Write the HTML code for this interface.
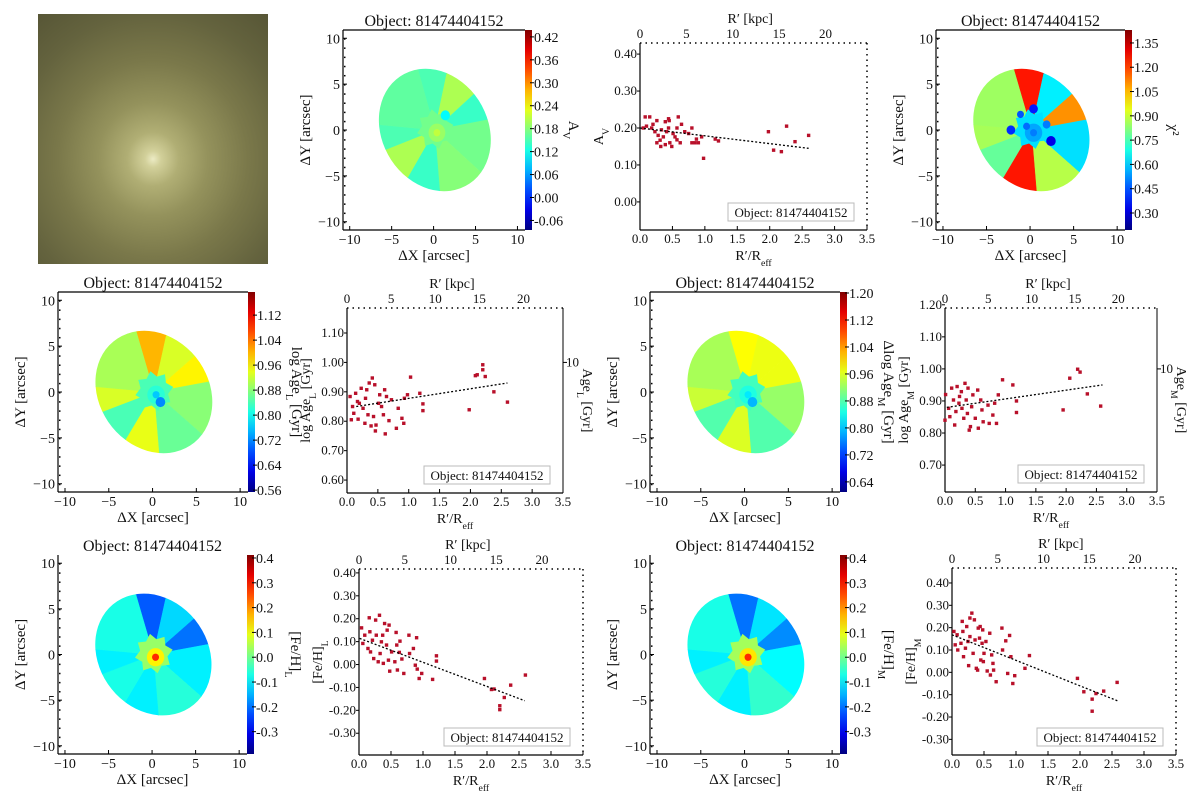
<!DOCTYPE html>
<html><head><meta charset="utf-8"><title>Object 81474404152 maps</title>
<style>
html,body{margin:0;padding:0;background:#fff;}
#wrap{position:relative;width:1200px;height:802px;overflow:hidden;font-family:"Liberation Serif",serif;}
#photo{position:absolute;left:38px;top:14px;width:230px;height:250px;
background:radial-gradient(ellipse 130px 135px at 50% 58%,#ecebc4 0,#d2d09a 8px,#b0ae74 26px,#94925c 55px,#7a784a 95px,#64633e 140px,#575636 180px);}
svg{position:absolute;left:0;top:0;}
text{font-family:"Liberation Serif",serif;fill:#111;}
</style></head>
<body>
<div id="wrap">
<div id="photo"></div>
<svg id="fig" width="1200" height="802" viewBox="0 0 1200 802"></svg>
</div>
<script>
// ---------- data ----------
const xTickVals=[0,0.5,1.0,1.5,2.0,2.5,3.0,3.5];
const kpcTicks=[0,5,10,15,20];
// A_V
const avR=[0.05,0.08,0.15,0.18,0.23,0.26,0.28,0.31,0.32,0.36,0.39,0.41,0.44,0.45,0.46,0.49,0.44,0.54,0.57,0.59,0.62,0.64,0.69,0.80,0.80,0.87,0.90,0.95,0.98,1.16,1.21,1.98,2.06,2.18,2.26,2.39,2.6,0.1,0.2,0.33,0.51,0.57,0.75,0.85,0.26,0.39];
const avV=[0.20,0.23,0.23,0.20,0.19,0.22,0.18,0.167,0.15,0.176,0.217,0.19,0.20,0.22,0.16,0.15,0.225,0.176,0.20,0.23,0.16,0.21,0.19,0.20,0.16,0.17,0.16,0.176,0.118,0.17,0.165,0.19,0.14,0.136,0.205,0.163,0.18,0.205,0.21,0.195,0.185,0.168,0.185,0.16,0.16,0.155];
const avFitX=[0,2.6], avFitY=[0.20,0.145];
const avTicks=[0.00,0.10,0.20,0.30,0.40];
// log Age L
const agLR=[0.05,0.09,0.07,0.11,0.14,0.17,0.18,0.2,0.23,0.26,0.29,0.3,0.32,0.34,0.36,0.39,0.41,0.43,0.45,0.46,0.47,0.51,0.53,0.56,0.59,0.61,0.62,0.64,0.68,0.72,0.8,0.83,0.89,0.92,0.93,0.98,1.03,1.18,1.23,1.23,1.98,2.08,2.11,2.2,2.2,2.24,2.38,2.6];
const agLV=[0.884,0.85,0.805,0.827,0.895,0.867,0.807,0.861,0.912,0.844,0.793,0.878,0.907,0.822,0.93,0.784,0.947,0.816,0.924,0.767,0.787,0.861,0.89,0.85,0.822,0.907,0.757,0.884,0.802,0.873,0.776,0.844,0.81,0.793,0.878,0.89,0.95,0.895,0.859,0.836,0.839,0.955,0.958,0.975,0.992,0.952,0.9,0.865];
const agLFitX=[0.15,2.6], agLFitY=[0.85,0.93];
const agLTicks=[0.60,0.70,0.80,0.90,1.00,1.10];
// log Age M
const agMR=[0,0.01,0.06,0.08,0.11,0.14,0.16,0.18,0.2,0.23,0.24,0.27,0.28,0.31,0.33,0.35,0.37,0.38,0.4,0.42,0.44,0.46,0.5,0.54,0.55,0.59,0.61,0.63,0.71,0.73,0.79,0.82,0.85,0.88,0.95,1.12,1.18,1.18,1.95,2.06,2.19,2.23,2.35,2.57];
const agMV=[0.84,0.92,0.877,0.851,0.94,0.903,0.825,0.867,0.945,0.893,0.914,0.929,0.877,0.846,0.955,0.903,0.861,0.94,0.809,0.82,0.882,0.919,0.846,0.934,0.815,0.903,0.872,0.835,0.887,0.83,0.856,0.893,0.83,0.919,0.966,0.95,0.9,0.864,0.872,0.971,0.999,0.99,0.922,0.884];
const agMFitX=[0.03,2.6], agMFitY=[0.88,0.95];
const agMTicks=[0.70,0.80,0.90,1.00,1.10,1.20];
// [Fe/H] L
const feLR=[0.04,0.06,0.09,0.14,0.16,0.17,0.18,0.21,0.23,0.26,0.27,0.3,0.32,0.33,0.35,0.37,0.38,0.4,0.43,0.44,0.46,0.47,0.48,0.51,0.56,0.58,0.59,0.6,0.63,0.64,0.67,0.7,0.78,0.79,0.85,0.88,0.9,0.91,0.94,0.98,1.15,1.21,1.21,1.96,2.07,2.11,2.2,2.2,2.27,2.37,2.6];
const feLV=[0.16,0.092,0.128,0.07,0.204,0.143,0.055,0.106,0.026,0.194,0.128,0.012,0.215,0.048,0.099,0.128,0.005,0.179,0.085,0.15,0.019,0.172,-0.029,0.055,0.012,0.14,0.085,-0.024,0.053,0.102,0.024,-0.039,0.128,0.048,0.07,-0.003,0.117,-0.02,-0.061,-0.039,-0.065,0.038,0.015,-0.061,-0.109,-0.107,-0.18,-0.197,-0.144,-0.09,-0.046];
const feLFitX=[0.01,2.59], feLFitY=[0.114,-0.158];
const feTicks=[-0.30,-0.20,-0.10,0.00,0.10,0.20,0.30,0.40];
// [Fe/H] M
const feMR=[0.03,0.05,0.08,0.09,0.14,0.16,0.17,0.18,0.21,0.23,0.25,0.26,0.28,0.28,0.31,0.33,0.35,0.36,0.38,0.4,0.41,0.43,0.44,0.45,0.47,0.48,0.49,0.5,0.53,0.55,0.59,0.6,0.62,0.64,0.65,0.69,0.78,0.79,0.84,0.87,0.9,0.92,0.95,0.98,1.14,1.21,1.96,2.06,2.19,2.19,2.25,2.37,2.58];
const feMV=[0.183,0.123,0.168,0.1,0.13,0.228,0.183,0.07,0.108,0.205,0.138,0.03,0.243,0.16,0.265,0.085,0.235,0.145,0.018,0.01,0.198,0.153,0.205,0.055,0.13,0.19,0.048,0.085,0.138,0.006,0.175,-0.012,0.078,0.04,0.01,-0.042,0.198,0.1,0.141,-0.005,0.165,0.07,-0.05,-0.015,0.018,0.075,-0.027,-0.087,-0.12,-0.174,-0.095,-0.084,-0.045];
const feMFitX=[0,2.59], feMFitY=[0.168,-0.128];
// maps: sector boundaries (deg) and values
const sectorEdges=[107,77,40,10,-40,-85,-122,-160,-185,-253];
const avSectors=[0.15,0.20,0.14,0.17,0.18,0.14,0.20,0.15,0.16];
const avCenter=[0.17,0.19,0.21];
const avBlobs=[[1.4,1.6,0.55,0.11]];
const avCbTicks=[0.42,0.36,0.30,0.24,0.18,0.12,0.06,0.00,-0.06];
const chiSectors=[1.25,0.64,1.1,0.62,0.88,1.25,0.78,0.86,0.85];
const chiCenter=[0.62,0.55,0.5];
const chiBlobs=[[0.4,2.3,0.5,0.38],[-2.2,0,0.5,0.4],[2.4,-1.2,0.55,0.32],[-1.1,1.7,0.4,0.45],[1.9,0.6,0.45,0.5],[-0.4,0.4,0.4,0.48]];
const chiCbTicks=[1.35,1.20,1.05,0.90,0.75,0.60,0.45,0.30];
const aLSectors=[1.0,0.93,0.96,0.88,0.86,0.94,0.84,0.93,0.9];
const aLCenter=[0.84,0.82,0.76];
const aLBlobs=[[0.9,-1.1,0.55,0.72]];
const aLCbTicks=[1.12,1.04,0.96,0.88,0.80,0.72,0.64,0.56];
const aMSectors=[0.98,0.97,0.97,0.92,0.88,0.96,0.88,0.95,0.93];
const aMCenter=[0.87,0.85,0.82];
const aMBlobs=[[0.9,-1.1,0.55,0.79]];
const aMCbTicks=[1.20,1.12,1.04,0.96,0.88,0.80,0.72,0.64];
const fLSectors=[-0.22,-0.12,-0.2,-0.1,-0.06,-0.1,-0.07,-0.1,-0.07];
const fLCenter=[0.03,0.12,0.28];
const fMSectors=[-0.2,-0.11,-0.18,-0.09,-0.05,-0.1,-0.06,-0.1,-0.07];
const fMCenter=[0.04,0.13,0.28];
const feCbTicks=[0.4,0.3,0.2,0.1,0.0,-0.1,-0.2,-0.3];
const mapXTicks=[-10,-5,0,5,10];
const mapYTicks=[10,5,0,-5,-10];

// ---------- helpers ----------
const NS='http://www.w3.org/2000/svg';
const svg=document.getElementById('fig');
function mk(tag,attrs,parent){const e=document.createElementNS(NS,tag);for(const k in attrs)e.setAttribute(k,attrs[k]);(parent||svg).appendChild(e);return e;}
function jet(t){t=Math.max(0,Math.min(1,t));
 const r=Math.max(0,Math.min(1,1.5-Math.abs(4*t-3)));
 const g=Math.max(0,Math.min(1,1.5-Math.abs(4*t-2)));
 const b=Math.max(0,Math.min(1,1.5-Math.abs(4*t-1)));
 return 'rgb('+Math.round(r*255)+','+Math.round(g*255)+','+Math.round(b*255)+')';}
function fmt(v,d){return v.toFixed(d).replace('-0.00','0.00');}
function label(parent,x,y,main,sub,after,size,anchor,rot){
 const t=mk('text',{x:x,y:y,'font-size':size,'text-anchor':anchor||'middle'},parent);
 if(rot)t.setAttribute('transform','rotate('+rot+' '+x+' '+y+')');
 const a=mk('tspan',{},t);a.textContent=main;
 if(sub){const s=mk('tspan',{'font-size':size*0.7,'baseline-shift':'sub'},t);s.textContent=sub;}
 if(after){const b=mk('tspan',{},t);b.textContent=after;}
 return t;}

// ---------- scatter ----------
function drawScatter(c){
 const g=mk('g',{});
 
 
 const xs=v=>c.L+v/3.5*(c.R-c.L);
 const ys=v=>c.B-(v-c.ymin)/(c.ymax-c.ymin)*(c.B-c.T);
 let e=mk('line',{x1:c.L,y1:c.T,x2:c.L,y2:c.B,stroke:'#000','stroke-width':1.2},g);
 
 
 e=mk('line',{x1:c.L,y1:c.B,x2:c.R,y2:c.B,stroke:'#000','stroke-width':1.2},g);
 
 
 e=mk('line',{x1:c.L,y1:c.T,x2:c.R,y2:c.T,stroke:'#000','stroke-width':1.5,'stroke-dasharray':'1.5,4'},g);
 
 
 e=mk('line',{x1:c.R,y1:c.T,x2:c.R,y2:c.B,stroke:'#000','stroke-width':c.rightSolid?1:1.5,'stroke-dasharray':c.rightSolid?'none':'1.5,4'},g);
 
 
 for(const v of xTickVals){
  mk('line',{x1:xs(v),y1:c.B,x2:xs(v),y2:c.B-4,stroke:'#000'},g);
  e=label(g,xs(v),c.B+13,v.toFixed(1),null,null,13);
  
  
 }
 for(const k of kpcTicks){
  e=label(g,xs(k*0.143),c.T-5,String(k),null,null,13);
  
  
 }
 for(const v of c.yticks){
  mk('line',{x1:c.L-3,y1:ys(v),x2:c.L,y2:ys(v),stroke:'#000'},g);
  e=label(g,c.L-3,ys(v)+4,fmt(v,2),null,null,13,'end');
  
  
 }
 for(let i=0;i<c.xv.length;i++){
  e=mk('rect',{x:xs(c.xv[i])-1.7,y:ys(c.yv[i])-1.7,width:3.4,height:3.4,fill:'#b8102a'},g);
  
  
 }
 e=mk('line',{x1:xs(c.fx[0]),y1:ys(c.fy[0]),x2:xs(c.fx[1]),y2:ys(c.fy[1]),stroke:'#000','stroke-width':1.3,'stroke-dasharray':'2,2'},g);
 
 
 e=mk('rect',{x:c.R-139,y:c.B-27,width:126,height:18,fill:'#fff',stroke:'#bbb','stroke-width':1},g);
 
 
 e=label(g,c.R-76,c.B-13,'Object: 81474404152',null,null,13);
 
 
 e=label(g,(c.L+c.R)/2,c.B+30,'R′/R','eff',null,14);
 
 
 e=label(g,xs(1.7),c.T-20,'R′ [kpc]',null,null,14);
 
 
 e=label(g,c.L-37,(c.T+c.B)/2,c.yl[0],c.yl[1],c.yl[2],14,'middle',-90);
 
 
 if(c.rightSolid){
  mk('line',{x1:c.R,y1:ys(1.0),x2:c.R+4,y2:ys(1.0),stroke:'#000'},g);
  e=label(g,c.R+3,ys(1.0)+4,'10',null,null,13,'start');
  
  
  e=label(g,c.R+20,(c.T+c.B)/2,'Age',c.rl,' [Gyr]',14,'middle',90);
  
  
 }
}

// ---------- maps ----------
let clipId=0;
function drawMap(c){
 const g=mk('g',{});
 
 
 const x0=-10.8,x1=10.9,y0=-10.9,y1=10.9;
 const sx=(c.R-c.L)/(x1-x0), sy=(c.B-c.T)/(y1-y0);
 const px=c.L-x0*sx, py=c.T+y1*sy;
 const col=v=>jet((v-c.cmin)/(c.cmax-c.cmin));
 const id='clip'+(clipId++);
 const defs=mk('defs',{},g);
 const cp=mk('clipPath',{id:id},defs);
 mk('ellipse',{cx:0.15,cy:0,rx:7.2,ry:6.1,transform:'rotate(135 0.15 0)'},cp);
 const dg=mk('g',{transform:'translate('+px+' '+py+') scale('+sx+' '+(-sy)+')'},g);
 const cg=mk('g',{'clip-path':'url(#'+id+')'},dg);
 for(let i=0;i<c.sec.length;i++){
  const a1=sectorEdges[i],a2=sectorEdges[i+1];let pts='0.15,0';
  for(let a=a1;a>=a2-0.01;a-=(a1-a2)/8){pts+=' '+(0.15+13*Math.cos(a*Math.PI/180)).toFixed(2)+','+(13*Math.sin(a*Math.PI/180)).toFixed(2);}
  const e=mk('polygon',{points:pts,fill:col(c.sec[i]),stroke:col(c.sec[i]),'stroke-width':0.05},cg);
  
  
 }
 let st='';
 for(let k=0;k<16;k++){const r=k%2?1.6:2.2,a=k*Math.PI/8+0.2;st+=(0.2+r*Math.cos(a)).toFixed(2)+','+(0.1+r*Math.sin(a)).toFixed(2)+' ';}
 let e=mk('polygon',{points:st,fill:col(c.ctr[0])},cg);
 
 
 e=mk('circle',{cx:0.4,cy:-0.3,r:1.0,fill:col(c.ctr[1])},cg);
 
 
 e=mk('circle',{cx:0.4,cy:-0.3,r:0.4,fill:col(c.ctr[2])},cg);
 
 
 for(const b of (c.blobs||[])){
  e=mk('circle',{cx:b[0],cy:b[1],r:b[2],fill:col(b[3])},cg);
  
  
 }
 // axes
 mk('line',{x1:c.L,y1:c.T,x2:c.L,y2:c.B,stroke:'#000','stroke-width':1.2},g);
 mk('line',{x1:c.L,y1:c.B,x2:c.R,y2:c.B,stroke:'#000','stroke-width':1.2},g);
 if(c.topLine)mk('line',{x1:c.L,y1:c.T,x2:c.R,y2:c.T,stroke:'#000','stroke-width':1.2},g);
 for(const v of mapXTicks){
  mk('line',{x1:px+v*sx,y1:c.B,x2:px+v*sx,y2:c.B-4,stroke:'#000'},g);
  e=label(g,px+v*sx,c.B+14,v<0?'−'+(-v):String(v),null,null,14);
  
  
 }
 for(const v of mapYTicks){
  mk('line',{x1:c.L,y1:py-v*sy,x2:c.L+4,y2:py-v*sy,stroke:'#000'},g);
  e=label(g,c.L-3,py-v*sy+5,v<0?'−'+(-v):String(v),null,null,14,'end');
  
  
 }
 for(let y=-10;y<=10;y+=1){mk('rect',{x:c.L+1,y:py-y*sy,width:1.5,height:1.5,fill:'#000'},g);}
 e=label(g,(c.L+c.R)/2,c.B+30,'ΔX [arcsec]',null,null,15);
 
 
 e=label(g,c.L-33,(c.T+c.B)/2,'ΔY [arcsec]',null,null,15,'middle',-90);
 
 
 e=label(g,(c.L+c.R)/2,c.T-4,'Object: 81474404152',null,null,16);
 
 
 // colorbar
 const gid='grad'+clipId;
 const lg=mk('linearGradient',{id:gid,x1:0,y1:1,x2:0,y2:0},defs);
 for(let k=0;k<=10;k++)mk('stop',{offset:k/10,'stop-color':jet(k/10)},lg);
 e=mk('rect',{x:c.R,y:c.T,width:7,height:c.B-c.T,fill:'url(#'+gid+')'},g);
 
 
 const cy=v=>c.B-(v-c.cmin)/(c.cmax-c.cmin)*(c.B-c.T);
 for(const v of c.cticks){
  mk('line',{x1:c.R+5,y1:cy(v),x2:c.R+9,y2:cy(v),stroke:'#000'},g);
  e=label(g,c.R+9,cy(v)+5,fmt(v,c.dec),null,null,14,'start');
  
  
 }
 e=label(g,c.R+44,(c.T+c.B)/2,c.cl[0],c.cl[1],c.cl[2],15,'middle',90);
 
 
}

drawMap({name:'av-map',L:343,R:525,T:30,B:230,cmin:-0.085,cmax:0.438,sec:avSectors,ctr:avCenter,blobs:avBlobs,cticks:avCbTicks,dec:2,cl:['A','V',''],topLine:true});
drawMap({name:'chi2-map',L:936,R:1125,T:30,B:230,cmin:0.195,cmax:1.43,sec:chiSectors,ctr:chiCenter,blobs:chiBlobs,cticks:chiCbTicks,dec:2,cl:['χ²','',''],topLine:true});
drawMap({name:'age-l-map',L:58,R:248,T:292,B:492,cmin:0.554,cmax:1.194,sec:aLSectors,ctr:aLCenter,blobs:aLBlobs,cticks:aLCbTicks,dec:2,cl:['log Age','L',' [Gyr]'],topLine:true});
drawMap({name:'age-m-map',L:650,R:840,T:292,B:492,cmin:0.61,cmax:1.203,sec:aMSectors,ctr:aMCenter,blobs:aMBlobs,cticks:aMCbTicks,dec:2,cl:['Δlog Age','M',' [Gyr]'],topLine:true});
drawMap({name:'feh-l-map',L:58,R:247,T:555,B:754,cmin:-0.39,cmax:0.412,sec:fLSectors,ctr:fLCenter,blobs:[],cticks:feCbTicks,dec:1,cl:['[Fe/H]','L',''],topLine:false});
drawMap({name:'feh-m-map',L:650,R:840,T:555,B:754,cmin:-0.39,cmax:0.412,sec:fMSectors,ctr:fMCenter,blobs:[],cticks:feCbTicks,dec:1,cl:['[Fe/H]','M',''],topLine:false});

drawScatter({name:'av-profile',L:640,R:867,T:43,B:230,ymin:-0.076,ymax:0.43,yticks:avTicks,xv:avR,yv:avV,fx:avFitX,fy:avFitY,yl:['A','V',''],rightSolid:false});
drawScatter({name:'age-l-profile',L:347,R:563,T:308,B:493,ymin:0.556,ymax:1.185,yticks:agLTicks,xv:agLR,yv:agLV,fx:agLFitX,fy:agLFitY,yl:['log Age','L',' [Gyr]'],rightSolid:true,rl:'L'});
drawScatter({name:'age-m-profile',L:945,R:1157,T:308,B:492,ymin:0.616,ymax:1.19,yticks:agMTicks,xv:agMR,yv:agMV,fx:agMFitX,fy:agMFitY,yl:['log Age','M',' [Gyr]'],rightSolid:true,rl:'M'});
drawScatter({name:'feh-l-profile',L:359,R:583,T:569,B:755,ymin:-0.395,ymax:0.417,yticks:feTicks,xv:feLR,yv:feLV,fx:feLFitX,fy:feLFitY,yl:['[Fe/H]','L',''],rightSolid:false});
drawScatter({name:'feh-m-profile',L:952,R:1176,T:568,B:755,ymin:-0.37,ymax:0.467,yticks:feTicks,xv:feMR,yv:feMV,fx:feMFitX,fy:feMFitY,yl:['[Fe/H]','M',''],rightSolid:false});
</script>
</body></html>
